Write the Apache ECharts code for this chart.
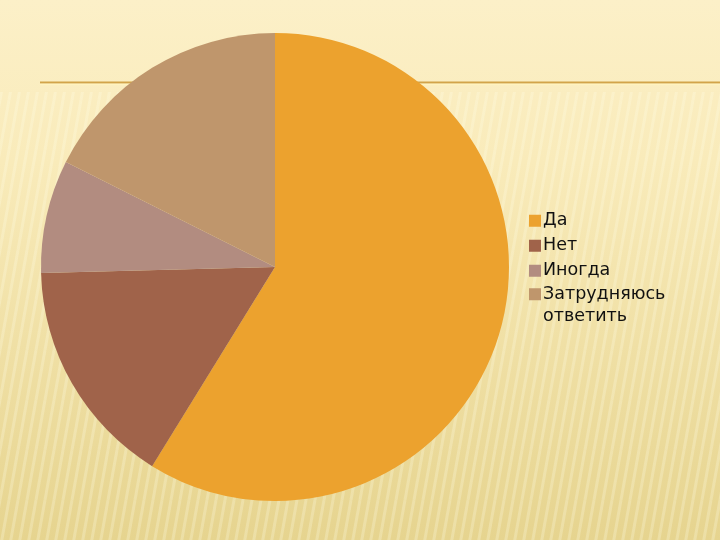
<!DOCTYPE html>
<html><head><meta charset="utf-8">
<script src="https://cdn.jsdelivr.net/npm/echarts@6/dist/echarts.min.js"></script>
<style>html,body{margin:0;padding:0;}#c{width:720px;height:540px;}</style>
</head><body><div id="c"></div>
<script>
const categories = ['Да', 'Нет', 'Иногда', 'Затрудняюсь\nответить'];
const values = [58.8, 15.8, 7.8, 17.6];
const colors = ['#ECA22E', '#A0634A', '#B28C80', '#BF966C'];

// subtle slanted stripe pattern (seamless tile)
const pc = document.createElement('canvas');
pc.width = 9; pc.height = 50;
const px = pc.getContext('2d');
px.strokeStyle = 'rgba(255,255,235,0.28)';
px.lineWidth = 3;
for (let k = -1; k <= 1; k++) {
  px.beginPath(); px.moveTo(k * 9, 50); px.lineTo(k * 9 + 9, 0); px.stroke();
}

const legendBase = {
  orient: 'vertical', left: 529, padding: 0,
  icon: 'rect', itemWidth: 12, itemHeight: 12, itemGap: 2.5,
  textStyle: { fontFamily: 'DejaVu Sans', fontSize: 17.5, color: '#111', lineHeight: 22.5, padding: [0, 0, 0, -3] },
  selectedMode: false
};

const chart = echarts.init(document.getElementById('c'));
chart.setOption({
  animation: false,
  graphic: [
    { type: 'rect', z: -10, shape: { x: 0, y: 0, width: 720, height: 540 },
      style: { fill: new echarts.graphic.LinearGradient(0, 0, 0, 1, [
        { offset: 0, color: '#FCF0C8' }, { offset: 0.3, color: '#F9EBBA' },
        { offset: 1, color: '#E6D48F' }]) } },
    { type: 'rect', z: -9, shape: { x: 0, y: 92, width: 720, height: 448 },
      style: { fill: { image: pc, repeat: 'repeat' }, opacity: 0.9 } },
    { type: 'line', z: -8, shape: { x1: 40, y1: 82.5, x2: 720, y2: 82.5 },
      style: { stroke: '#D2A44A', lineWidth: 2 } },
    { type: 'line', z: -8, shape: { x1: 40, y1: 84.5, x2: 720, y2: 84.5 },
      style: { stroke: '#FFF3C0', lineWidth: 1.5 } }
  ],
  legend: [
    Object.assign({}, legendBase, { top: 209.5, data: categories.slice(0, 3) }),
    Object.assign({}, legendBase, { top: 260.5, data: categories.slice(3),
      formatter: n => '\n' + n })
  ],
  series: [{
    type: 'pie', center: [275, 267], radius: 234,
    startAngle: 90, clockwise: true,
    label: { show: false }, labelLine: { show: false },
    emphasis: { disabled: true },
    itemStyle: { borderWidth: 0 },
    data: categories.map((n, i) => ({ name: n, value: values[i], itemStyle: { color: colors[i] } }))
  }]
});
</script></body></html>
